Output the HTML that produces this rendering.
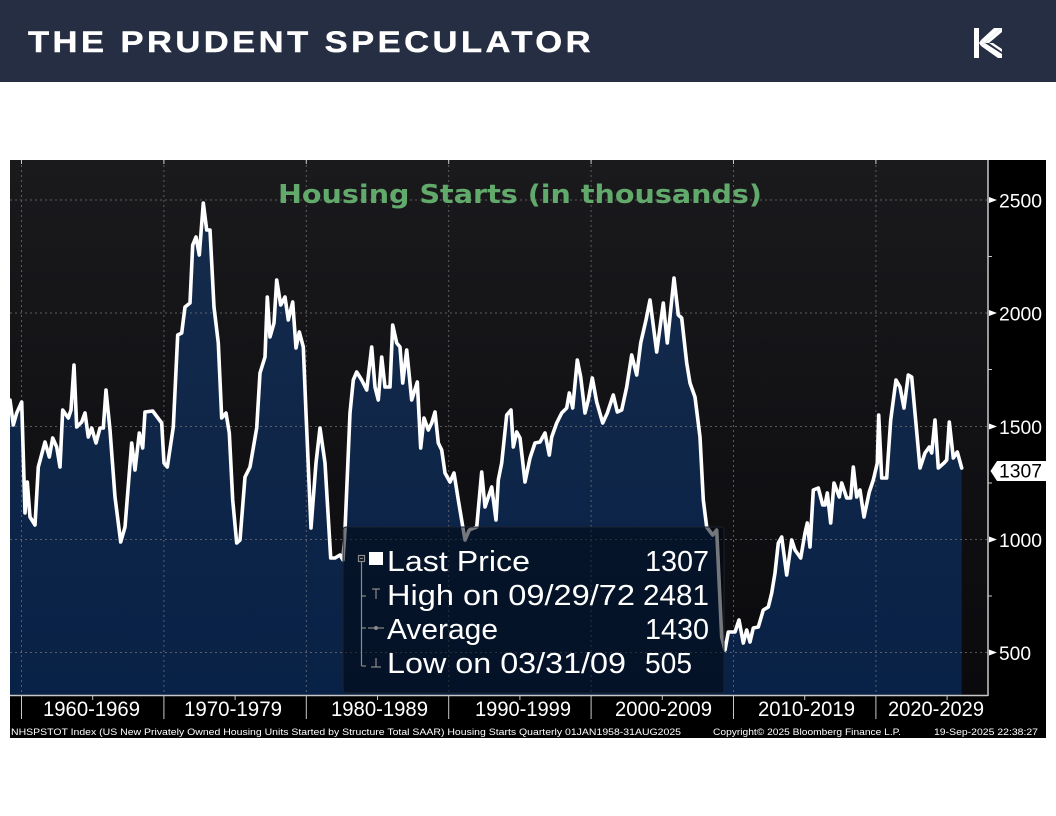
<!DOCTYPE html>
<html>
<head>
<meta charset="utf-8">
<style>
html,body{margin:0;padding:0;background:#fff;}
svg{display:block;}
</style>
</head>
<body>
<svg width="1056" height="816" viewBox="0 0 1056 816" xmlns="http://www.w3.org/2000/svg">
<defs>
<linearGradient id="bg" x1="0" y1="160" x2="0" y2="695" gradientUnits="userSpaceOnUse">
<stop offset="0" stop-color="#1a1a1d"/>
<stop offset="1" stop-color="#0a0a0d"/>
</linearGradient>
<linearGradient id="fill" x1="0" y1="200" x2="0" y2="695" gradientUnits="userSpaceOnUse">
<stop offset="0" stop-color="#152b4b"/>
<stop offset="1" stop-color="#082146"/>
</linearGradient>
</defs>
<rect width="1056" height="816" fill="#ffffff"/>
<!-- Header -->
<rect x="0" y="0" width="1056" height="82" fill="#262e43"/>
<text x="28" y="52" font-family="Liberation Sans, sans-serif" font-weight="bold" font-size="30" letter-spacing="3" fill="#ffffff" stroke="#ffffff" stroke-width="0.4" textLength="566" lengthAdjust="spacingAndGlyphs">THE PRUDENT SPECULATOR</text>
<!-- Logo -->
<g fill="#ffffff">
<rect x="974" y="28" width="5" height="30"/>
<polygon points="981,40 994,28 1001,28 985,43"/>
<polygon points="985,43 1001,28 1002,28 1002,32 989,43"/>
<polygon points="981,46 985,43 1002,54 1002,58 998,58"/>
<polygon points="989,43 993,43 1002,49 1002,52"/>
<polygon points="979,43 981,40 985,43 981,46"/>
</g>
<!-- Chart black background -->
<rect x="10" y="160" width="1036" height="578" fill="#000000"/>
<rect x="10" y="160" width="978" height="535" fill="url(#bg)"/>
<!-- Area -->
<polygon fill="url(#fill)" points="10,695 10,400 13.3,425 16.7,413 21.7,402 25,513 27.3,482 30,517 35,525 38.3,467 45,442 49.3,457 52.7,438 56.7,447 60,467 62.7,410 68.3,418 71,410 74,365 76.7,427 81.7,422 85,413 88.3,437 91.7,428 96,443 100,428 103.3,428 106,390 110,430 115,497 120.7,542 125,527 131.7,443 135,470 139.3,433 142.7,448 145,412 152.7,411 161.7,423 164,463 167.3,467 173.3,427 177.7,335 181.7,333 185,307 190,303 192.7,245 196,237 199.3,255 203.3,203 206.7,230 210,230 214,307 218.3,343 221.7,418 226,413 229.3,433 232.7,500 236.7,543 240,540 245,477 250,467 256.7,428 260,373 265,357 267.3,297 270,337 274,323 276.7,280 280.7,305 285,297 288.3,320 292.7,302 296,348 299.3,332 303.3,347 306,413 311,528 316,463 320,428 325,463 330.7,558 335,558 340,555 343,560 345,530 350,413 353.3,380 356.7,372 361.7,380 366.7,390 371.7,347 375,387 378.3,400 381.7,357 385,387 390,387 392.7,325 396.7,343 400,347 402.7,383 406.7,350 411.7,400 417.3,382 420.7,448 424,418 428.3,430 431.7,423 435,412 438.3,443 441.7,450 445,473 450,482 454,473 458.3,500 465,540 469.3,530 476.7,527 481.7,472 485,507 491.7,487 496,520 498.3,480 501.7,463 506.7,415 511,410 513.3,447 516.7,432 520,438 525,482 530,458 535,443 540,442 545,433 549.3,455 551.7,437 556.7,423 561.7,413 566.7,408 569.3,393 572.7,408 577.3,360 580.7,377 585,413 588.3,400 592.3,378 596.7,402 602.7,423 607.3,413 613.3,395 617.3,412 621.7,410 626.7,387 631.7,355 636.7,375 640.7,343 646,320 650,300 656.7,352 663.3,303 667.3,343 674,278 678.3,315 681.7,318 686.7,363 690,383 695,397 700,437 703.3,500 706.7,527 712.7,535 716.7,530 721.7,637 725,650 728.3,632 735,632 739,620 743.3,643 746.7,630 750,642 753.3,628 758.3,627 763.3,610 768.3,607 771.7,593 775,573 778.3,543 781.7,537 786.7,575 791.7,540 795,550 800.7,558 805,533 807.3,523 810,547 813.3,490 818.3,488 822.7,505 825,505 827.3,493 830.7,523 834,483 839.3,497 841.7,483 846.7,498 850.7,498 853.3,467 856.7,497 860,490 864,517 869.3,492 873.3,480 877.3,463 878.7,415 881.7,478 886.7,478 890.7,420 896,380 900,387 904,408 908.3,375 911.7,377 915,413 920,468 925,453 929.3,447 931.7,453 935,420 938.3,468 944,463 946.7,460 949.3,422 953.3,458 957.3,452 961.7,468 961.7,695"/>
<!-- Grid -->
<g stroke="#7a7a7a" stroke-width="1" stroke-dasharray="2,3" opacity="0.7">
<line x1="10" y1="200" x2="988" y2="200"/>
<line x1="10" y1="313" x2="988" y2="313"/>
<line x1="10" y1="426.5" x2="988" y2="426.5"/>
<line x1="10" y1="539.5" x2="988" y2="539.5"/>
<line x1="10" y1="652.5" x2="988" y2="652.5"/>
<line x1="21.5" y1="160" x2="21.5" y2="695"/>
<line x1="163.9" y1="160" x2="163.9" y2="695"/>
<line x1="306.3" y1="160" x2="306.3" y2="695"/>
<line x1="448.7" y1="160" x2="448.7" y2="695"/>
<line x1="591.1" y1="160" x2="591.1" y2="695"/>
<line x1="733.5" y1="160" x2="733.5" y2="695"/>
<line x1="875.9" y1="160" x2="875.9" y2="695"/>
</g>
<!-- Title -->
<text x="278" y="203" font-family="DejaVu Sans, Liberation Sans, sans-serif" font-weight="bold" font-size="26" fill="#62aa6c" textLength="484" lengthAdjust="spacingAndGlyphs">Housing Starts (in thousands)</text>
<!-- Line -->
<polyline fill="none" stroke="#ffffff" stroke-width="3.6" stroke-linejoin="round" stroke-linecap="round" points="10,400 13.3,425 16.7,413 21.7,402 25,513 27.3,482 30,517 35,525 38.3,467 45,442 49.3,457 52.7,438 56.7,447 60,467 62.7,410 68.3,418 71,410 74,365 76.7,427 81.7,422 85,413 88.3,437 91.7,428 96,443 100,428 103.3,428 106,390 110,430 115,497 120.7,542 125,527 131.7,443 135,470 139.3,433 142.7,448 145,412 152.7,411 161.7,423 164,463 167.3,467 173.3,427 177.7,335 181.7,333 185,307 190,303 192.7,245 196,237 199.3,255 203.3,203 206.7,230 210,230 214,307 218.3,343 221.7,418 226,413 229.3,433 232.7,500 236.7,543 240,540 245,477 250,467 256.7,428 260,373 265,357 267.3,297 270,337 274,323 276.7,280 280.7,305 285,297 288.3,320 292.7,302 296,348 299.3,332 303.3,347 306,413 311,528 316,463 320,428 325,463 330.7,558 335,558 340,555 343,560 345,530 350,413 353.3,380 356.7,372 361.7,380 366.7,390 371.7,347 375,387 378.3,400 381.7,357 385,387 390,387 392.7,325 396.7,343 400,347 402.7,383 406.7,350 411.7,400 417.3,382 420.7,448 424,418 428.3,430 431.7,423 435,412 438.3,443 441.7,450 445,473 450,482 454,473 458.3,500 465,540 469.3,530 476.7,527 481.7,472 485,507 491.7,487 496,520 498.3,480 501.7,463 506.7,415 511,410 513.3,447 516.7,432 520,438 525,482 530,458 535,443 540,442 545,433 549.3,455 551.7,437 556.7,423 561.7,413 566.7,408 569.3,393 572.7,408 577.3,360 580.7,377 585,413 588.3,400 592.3,378 596.7,402 602.7,423 607.3,413 613.3,395 617.3,412 621.7,410 626.7,387 631.7,355 636.7,375 640.7,343 646,320 650,300 656.7,352 663.3,303 667.3,343 674,278 678.3,315 681.7,318 686.7,363 690,383 695,397 700,437 703.3,500 706.7,527 712.7,535 716.7,530 721.7,637 725,650 728.3,632 735,632 739,620 743.3,643 746.7,630 750,642 753.3,628 758.3,627 763.3,610 768.3,607 771.7,593 775,573 778.3,543 781.7,537 786.7,575 791.7,540 795,550 800.7,558 805,533 807.3,523 810,547 813.3,490 818.3,488 822.7,505 825,505 827.3,493 830.7,523 834,483 839.3,497 841.7,483 846.7,498 850.7,498 853.3,467 856.7,497 860,490 864,517 869.3,492 873.3,480 877.3,463 878.7,415 881.7,478 886.7,478 890.7,420 896,380 900,387 904,408 908.3,375 911.7,377 915,413 920,468 925,453 929.3,447 931.7,453 935,420 938.3,468 944,463 946.7,460 949.3,422 953.3,458 957.3,452 961.7,468"/>
<!-- Legend box -->
<rect x="343" y="527" width="381" height="166" rx="3" fill="rgb(2,7,16)" fill-opacity="0.55" stroke="#1c2232" stroke-width="1"/>
<g stroke="#8a8a8a" stroke-width="1.2" fill="none">
<rect x="358.5" y="555.5" width="6" height="6"/>
<line x1="360" y1="558.5" x2="363" y2="558.5"/>
<line x1="361.5" y1="561.5" x2="361.5" y2="666"/>
<line x1="361.5" y1="596" x2="366" y2="596"/>
<line x1="361.5" y1="628" x2="366" y2="628"/>
<line x1="361.5" y1="666" x2="366" y2="666"/>
<line x1="372" y1="589" x2="380" y2="589"/>
<line x1="376" y1="589" x2="376" y2="599"/>
<line x1="368" y1="628" x2="384" y2="628"/>
<line x1="376" y1="658" x2="376" y2="667"/>
<line x1="371" y1="667" x2="381" y2="667"/>
</g>
<circle cx="376" cy="628" r="2" fill="#8a8a8a"/>
<rect x="369" y="552" width="14" height="13" fill="#ffffff"/>
<g font-family="Liberation Sans, sans-serif" font-size="29" fill="#ffffff">
<text x="387" y="571" textLength="143" lengthAdjust="spacingAndGlyphs">Last Price</text>
<text x="387" y="605" textLength="248" lengthAdjust="spacingAndGlyphs">High on 09/29/72</text>
<text x="387" y="639" textLength="111" lengthAdjust="spacingAndGlyphs">Average</text>
<text x="387" y="673" textLength="239" lengthAdjust="spacingAndGlyphs">Low on 03/31/09</text>
<text x="645" y="571" textLength="64" lengthAdjust="spacingAndGlyphs">1307</text>
<text x="643" y="605" textLength="66" lengthAdjust="spacingAndGlyphs">2481</text>
<text x="645" y="639" textLength="64" lengthAdjust="spacingAndGlyphs">1430</text>
<text x="645" y="673" textLength="47" lengthAdjust="spacingAndGlyphs">505</text>
</g>
<!-- Axes -->
<line x1="988" y1="160" x2="988" y2="696" stroke="#c8c8c8" stroke-width="1.5"/>
<line x1="10" y1="695.5" x2="988" y2="695.5" stroke="#c8c8c8" stroke-width="1.5"/>
<g stroke="#c8c8c8" stroke-width="1">
<line x1="988" y1="256.5" x2="992" y2="256.5"/>
<line x1="988" y1="369.5" x2="992" y2="369.5"/>
<line x1="988" y1="483" x2="992" y2="483"/>
<line x1="988" y1="596" x2="992" y2="596"/>
<line x1="21.5" y1="160" x2="21.5" y2="164"/>
<line x1="163.9" y1="160" x2="163.9" y2="164"/>
<line x1="306.3" y1="160" x2="306.3" y2="164"/>
<line x1="448.7" y1="160" x2="448.7" y2="164"/>
<line x1="591.1" y1="160" x2="591.1" y2="164"/>
<line x1="733.5" y1="160" x2="733.5" y2="164"/>
<line x1="875.9" y1="160" x2="875.9" y2="164"/>
<line x1="21.5" y1="696" x2="21.5" y2="719"/>
<line x1="163.9" y1="696" x2="163.9" y2="719"/>
<line x1="306.3" y1="696" x2="306.3" y2="719"/>
<line x1="448.7" y1="696" x2="448.7" y2="719"/>
<line x1="591.1" y1="696" x2="591.1" y2="719"/>
<line x1="733.5" y1="696" x2="733.5" y2="719"/>
<line x1="875.9" y1="696" x2="875.9" y2="719"/>
<line x1="92.7" y1="696" x2="92.7" y2="700"/>
<line x1="235.1" y1="696" x2="235.1" y2="700"/>
<line x1="377.5" y1="696" x2="377.5" y2="700"/>
<line x1="519.9" y1="696" x2="519.9" y2="700"/>
<line x1="662.3" y1="696" x2="662.3" y2="700"/>
<line x1="804.7" y1="696" x2="804.7" y2="700"/>
<line x1="947.1" y1="696" x2="947.1" y2="700"/>
</g>
<g fill="#ffffff">
<polygon points="989,197 997,200 989,203"/>
<polygon points="989,310 997,313 989,316"/>
<polygon points="989,423.5 997,426.5 989,429.5"/>
<polygon points="989,536.5 997,539.5 989,542.5"/>
<polygon points="989,649.5 997,652.5 989,655.5"/>
</g>
<g font-family="Liberation Sans, sans-serif" font-size="19" fill="#ffffff">
<text x="999" y="207.5" textLength="43" lengthAdjust="spacingAndGlyphs">2500</text>
<text x="999" y="320.5" textLength="43" lengthAdjust="spacingAndGlyphs">2000</text>
<text x="999" y="434" textLength="43" lengthAdjust="spacingAndGlyphs">1500</text>
<text x="999" y="547" textLength="43" lengthAdjust="spacingAndGlyphs">1000</text>
<text x="999" y="660" textLength="32" lengthAdjust="spacingAndGlyphs">500</text>
</g>
<!-- Last value tag -->
<polygon points="990.5,471 997,461 1046,461 1046,481 997,481" fill="#ffffff"/>
<text x="999" y="477.5" font-family="Liberation Sans, sans-serif" font-size="19" fill="#000000" textLength="43" lengthAdjust="spacingAndGlyphs">1307</text>
<!-- X labels -->
<g font-family="Liberation Sans, sans-serif" font-size="21" fill="#ffffff">
<text x="43" y="716" textLength="97" lengthAdjust="spacingAndGlyphs">1960-1969</text>
<text x="184" y="716" textLength="98" lengthAdjust="spacingAndGlyphs">1970-1979</text>
<text x="331" y="716" textLength="97" lengthAdjust="spacingAndGlyphs">1980-1989</text>
<text x="475" y="716" textLength="96" lengthAdjust="spacingAndGlyphs">1990-1999</text>
<text x="615" y="716" textLength="97" lengthAdjust="spacingAndGlyphs">2000-2009</text>
<text x="758" y="716" textLength="97" lengthAdjust="spacingAndGlyphs">2010-2019</text>
<text x="888" y="716" textLength="96" lengthAdjust="spacingAndGlyphs">2020-2029</text>
</g>
<!-- Footer -->
<g font-family="Liberation Sans, sans-serif" font-size="9.5" fill="#ffffff">
<text x="11" y="735" textLength="670" lengthAdjust="spacingAndGlyphs">NHSPSTOT Index (US New Privately Owned Housing Units Started by Structure Total SAAR) Housing Starts  Quarterly 01JAN1958-31AUG2025</text>
<text x="713" y="735" textLength="188" lengthAdjust="spacingAndGlyphs">Copyright© 2025 Bloomberg Finance L.P.</text>
<text x="934" y="735" textLength="104" lengthAdjust="spacingAndGlyphs">19-Sep-2025 22:38:27</text>
</g>
</svg>
</body>
</html>
